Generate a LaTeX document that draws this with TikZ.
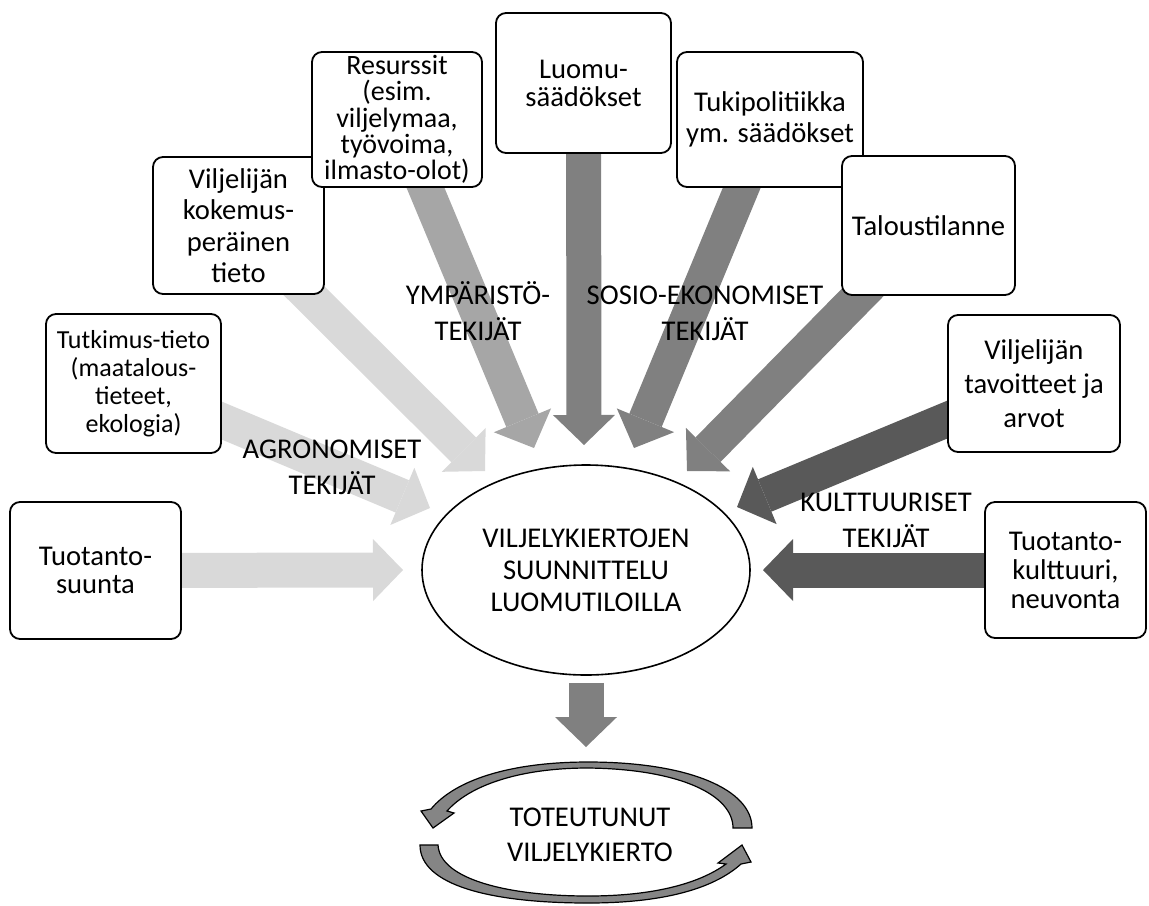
\documentclass[tikz,border=0pt]{standalone}
\usepackage{fontspec}
\setmainfont{Carlito}
\usetikzlibrary{arrows.meta, shapes.geometric, backgrounds, positioning}

\definecolor{agrogray}{HTML}{D9D9D9}
\definecolor{envgray}{HTML}{A6A6A6}
\definecolor{sosgray}{HTML}{808080}
\definecolor{kultgray}{HTML}{595959}
\definecolor{turngray}{HTML}{858585}

\begin{document}
\begin{tikzpicture}[x=0.5pt, y=-0.5pt,
    factor/.style={draw, rounded corners=5pt, line width=0.9pt, fill=white, align=center, inner sep=0pt, font=\fontsize{14.3}{14}\selectfont},
    group/.style={align=center, inner sep=0pt, font=\fontsize{14.3}{18}\selectfont},
    fat/.style={line width=17.5pt, -{Triangle[length=15pt, width=31pt, line width=0pt]}},
    turnarrow/.style={fill=turngray, draw=black, line width=0.6pt}]
        \useasboundingbox (0,0) rectangle (1149,905);

        % tekijat: laatikot
        \node[factor, minimum width=85.5pt, minimum height=68.5pt] (suunta) at (95.5,570.5) {Tuotanto-\\suunta};
        \node[factor, minimum width=87.5pt, minimum height=69.5pt, font=\fontsize{13}{14}\selectfont] (tutkimus) at (133.5,383.5) {Tutkimus-tieto\\(maatalous-\\tieteet,\\ekologia)};
        \node[factor, minimum width=85.5pt, minimum height=68.5pt, font=\fontsize{14.3}{15.75}\selectfont] (kokemus) at (238.5,225.5) {Viljelijän\\kokemus-\\peräinen\\tieto};
        \node[factor, minimum width=85pt, minimum height=67.5pt, font=\fontsize{14}{13.2}\selectfont] (resurssit) at (397,119.5) {Resurssit\\(esim.\\viljelymaa,\\työvoima,\\ilmasto-olot)};
        \node[factor, minimum width=87.5pt, minimum height=70pt] (luomu) at (583.5,83) {Luomu-\\säädökset};
        \node[factor, minimum width=93pt, minimum height=67.5pt, font=\fontsize{14.3}{15.5}\selectfont] (tuki) at (770,119.5) {Tukipolitiikka\\ym. säädökset};
        \node[factor, minimum width=86.5pt, minimum height=69.5pt] (talous) at (928.5,225.5) {Taloustilanne};
        \node[factor, minimum width=86pt, minimum height=68.5pt, font=\fontsize{14.3}{17}\selectfont] (tavoitteet) at (1034,383.5) {Viljelijän\\tavoitteet ja\\arvot};
        \node[factor, minimum width=80.5pt, minimum height=68pt, font=\fontsize{14.3}{14.5}\selectfont] (kulttuuri) at (1065.5,570) {Tuotanto-\\kulttuuri,\\neuvonta};

        % suunnittelu
        \node[draw, ellipse, line width=0.8pt, fill=white, minimum width=164pt, minimum height=105pt, inner sep=0pt, align=center, font=\fontsize{14.3}{16}\selectfont] (plan) at (586,570) {VILJELYKIERTOJEN\\SUUNNITTELU\\LUOMUTILOILLA};

        % tekijaryhmat
        \node[group] (agro) at (332,467) {AGRONOMISET\\TEKIJÄT};
        \node[group] (ymp) at (478,311) {YMPÄRISTÖ-\\TEKIJÄT};
        \node[group] (sosio) at (705,313) {SOSIO-EKONOMISET\\TEKIJÄT};
        \node[group] (kult) at (886,520) {KULTTUURISET\\TEKIJÄT};

        % nuolten karjet
        \coordinate (suuntaTip) at (403,570);
        \coordinate (tutkimusTip) at (430,508);
        \coordinate (kokemusTip) at (485,471);
        \coordinate (resurssitTip) at (534,448);
        \coordinate (luomuTip) at (584,445);
        \coordinate (tukiTip) at (634,448);
        \coordinate (talousTip) at (687,471);
        \coordinate (tavoitteetTip) at (737,507);
        \coordinate (kulttuuriTip) at (763,570);
        \coordinate (planTip) at (586,747);

        \begin{scope}[on background layer]
            \draw[fat, agrogray] (suunta.center) -- (suuntaTip);
            \draw[fat, agrogray] (tutkimus.center) -- (tutkimusTip);
            \draw[fat, agrogray] (kokemus.center) -- (kokemusTip);
            \draw[fat, envgray] (resurssit.center) -- (resurssitTip);
            \draw[fat, sosgray] (luomu.center) -- (luomuTip);
            \draw[fat, sosgray] (tuki.center) -- (tukiTip);
            \draw[fat, sosgray] (talous.center) -- (talousTip);
            \draw[fat, kultgray] (tavoitteet.center) -- (tavoitteetTip);
            \draw[fat, kultgray] (kulttuuri.center) -- (kulttuuriTip);
        \end{scope}
        \draw[fat, sosgray, shorten <=3.5pt] (plan.south) -- (planTip);

        % toteutunut kierto
        \node[align=center, inner sep=0pt, font=\fontsize{14.3}{17.5}\selectfont] (done) at (590,835) {TOTEUTUNUT\\VILJELYKIERTO};
        \draw[turnarrow] (752,828) -- (733,828)
            .. controls (733,795) and (680,769) .. (588,768)
            .. controls (520,768) and (470,785) .. (447,811)
            -- (454,813) -- (433,828) -- (421,811) -- (431,809)
            .. controls (455,780) and (510,762) .. (588,762)
            .. controls (690,762) and (752,790) .. (752,828) -- cycle;
        \draw[turnarrow] (420,845) -- (438,845)
            .. controls (440,880) and (510,896) .. (588,896)
            .. controls (655,896) and (700,883) .. (726,864)
            -- (718,863) -- (742,845) -- (751,862) -- (741,864)
            .. controls (712,890) and (660,903) .. (588,903)
            .. controls (490,903) and (420,885) .. (420,845) -- cycle;
\end{tikzpicture}
\end{document}
